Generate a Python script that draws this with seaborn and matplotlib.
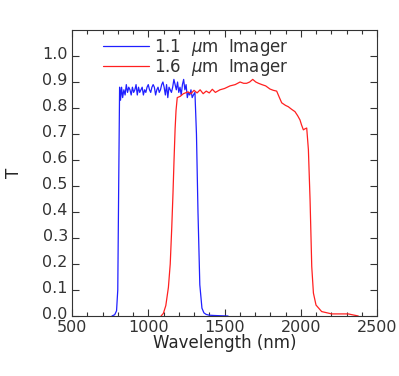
import numpy as np
import pandas as pd
import matplotlib
matplotlib.use("Agg")
import matplotlib.pyplot as plt
import matplotlib.transforms as mtransforms
import seaborn as sns
from matplotlib.ticker import MultipleLocator

# 1.1 um imager filter curve
blue_wl = [762, 780, 792, 800, 806, 812, 818, 825, 832, 840, 848, 856, 864,
           872, 880, 888, 896, 904, 912, 920, 928, 936, 944, 952, 960, 968,
           976, 984, 992, 1000, 1008, 1016, 1024, 1032, 1040, 1048, 1056,
           1064, 1072, 1080, 1088, 1096, 1104, 1112, 1120, 1128, 1136, 1144,
           1152, 1160, 1168, 1176, 1184, 1192, 1200, 1208, 1216, 1224, 1232,
           1240, 1248, 1256, 1264, 1272, 1280, 1288, 1296, 1306, 1316, 1326,
           1338, 1352, 1365, 1380, 1400, 1430, 1470, 1523]
blue_t = [0.0, 0.005, 0.02, 0.1, 0.5, 0.88, 0.83, 0.88, 0.84, 0.87, 0.85,
          0.89, 0.86, 0.88, 0.87, 0.85, 0.88, 0.86, 0.87, 0.89, 0.85, 0.88,
          0.86, 0.87, 0.88, 0.85, 0.87, 0.86, 0.88, 0.89, 0.87, 0.86, 0.88,
          0.89, 0.88, 0.85, 0.87, 0.88, 0.86, 0.87, 0.89, 0.90, 0.88, 0.85,
          0.89, 0.84, 0.88, 0.87, 0.86, 0.88, 0.91, 0.89, 0.87, 0.90, 0.86,
          0.88, 0.85, 0.89, 0.91, 0.87, 0.89, 0.84, 0.86, 0.85, 0.87, 0.84,
          0.85, 0.86, 0.70, 0.40, 0.12, 0.03, 0.012, 0.006, 0.003, 0.002,
          0.001, 0.0]

# 1.6 um imager filter curve
red_wl = [1084, 1099, 1115, 1132, 1144, 1154, 1162, 1169, 1176, 1182, 1190,
          1210, 1230, 1260, 1280, 1300, 1320, 1340, 1360, 1380, 1400, 1420,
          1440, 1470, 1500, 1536, 1570, 1602, 1625, 1645, 1665, 1685, 1705,
          1723, 1745, 1770, 1798, 1820, 1842, 1860, 1875, 1900, 1918, 1940,
          1962, 1980, 1995, 2005, 2017, 2028, 2039, 2050, 2061, 2072, 2083,
          2100, 2137, 2203, 2311, 2377]
red_t = [0.0, 0.01, 0.04, 0.11, 0.2, 0.34, 0.47, 0.6, 0.72, 0.79, 0.84,
         0.845, 0.855, 0.862, 0.855, 0.868, 0.858, 0.87, 0.855, 0.865, 0.858,
         0.872, 0.86, 0.87, 0.875, 0.885, 0.89, 0.90, 0.895, 0.895, 0.90,
         0.91, 0.90, 0.895, 0.89, 0.885, 0.873, 0.868, 0.865, 0.84, 0.82,
         0.81, 0.805, 0.795, 0.786, 0.77, 0.754, 0.735, 0.716, 0.72, 0.723,
         0.64, 0.446, 0.19, 0.088, 0.042, 0.017, 0.008, 0.008, 0.0]

blue_df = pd.DataFrame({"wl": blue_wl, "T": blue_t})
red_df = pd.DataFrame({"wl": red_wl, "T": red_t})

sns.set_style("ticks")
plt.rcParams["font.family"] = ["DejaVu Sans"]
plt.rcParams["text.color"] = "#333333"
plt.rcParams["xtick.color"] = "#333333"
plt.rcParams["ytick.color"] = "#333333"
plt.rcParams["mathtext.fontset"] = "dejavusans"

fig = plt.figure(figsize=(3.99, 3.76), dpi=100)
ax = fig.add_axes([0.1805, 0.1596, 0.7644, 0.7606])

sns.lineplot(data=blue_df, x="wl", y="T", ax=ax, color="#2020ff",
             linewidth=0.9, sort=False, estimator=None,
             label="1.1  $\\mu$m  Imager")
sns.lineplot(data=red_df, x="wl", y="T", ax=ax, color="#ff2020",
             linewidth=0.9, sort=False, estimator=None,
             label="1.6  $\\mu$m  Imager")

ax.set_xlim(500, 2500)
ax.set_ylim(0, 1.1)
ax.xaxis.set_major_locator(MultipleLocator(500))
ax.xaxis.set_minor_locator(MultipleLocator(100))
ax.set_yticks(np.arange(0, 1.01, 0.1))
ax.set_yticklabels([f"{v:.1f}" for v in np.arange(0, 1.01, 0.1)])
ax.tick_params(which="both", direction="in", top=True, right=True,
               labelsize=11.5, width=0.8, color="#333333")
ax.tick_params(which="major", length=5, pad=3)
ax.tick_params(which="minor", length=3)
for s in ax.spines.values():
    s.set_color("#333333")
    s.set_linewidth(0.8)

# nudge y tick labels up a little, like the original
shift = mtransforms.ScaledTranslation(0, 3 / 100, fig.dpi_scale_trans)
for lbl in ax.get_yticklabels():
    lbl.set_transform(lbl.get_transform() + shift)

ax.set_xlabel("Wavelength (nm)", fontsize=12, labelpad=-1)
ax.set_ylabel("T", fontsize=12, va="center")
ax.yaxis.set_label_coords(-0.19, 0.5)

ax.legend(loc="upper left", frameon=False, fontsize=12,
          bbox_to_anchor=(0.1, 0.975), borderaxespad=0, borderpad=0,
          handlelength=2.8, handletextpad=0.3, labelspacing=-0.05)

fig.savefig("out.png", dpi=100)
